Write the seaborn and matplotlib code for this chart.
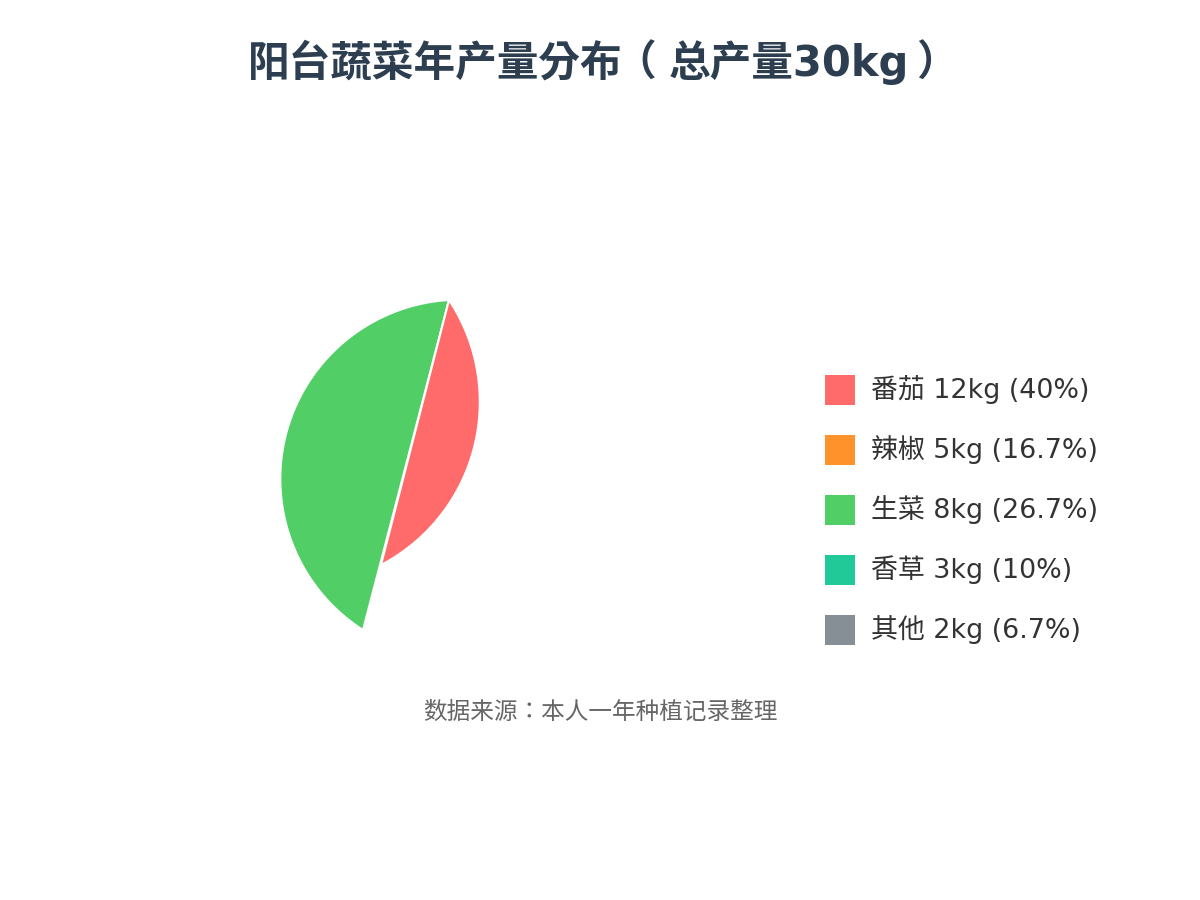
import numpy as np
import matplotlib.pyplot as plt
import seaborn as sns
from matplotlib.patches import Rectangle

# data
crops = ["番茄", "辣椒", "生菜", "香草", "其他"]
yields_kg = [12, 5, 8, 3, 2]
colors = ["#FF6B6B", "#FF922B", "#51CF66", "#20C997", "#868E96"]
title_main = "阳台蔬菜年产量分布"
title_total = "总产量30kg"
source = "数据来源：本人一年种植记录整理"

total = sum(yields_kg)
shares = [v / total for v in yields_kg]

# the captured frame of the pie animation: only two pieces are on screen,
# each drawn as an arc closed by its chord (pixel coords, y down);
# the arc bulges to the left of the chord direction
frame = {
    "生菜": dict(chord=((449, 300), (363, 630)), sweep_of="番茄"),
    "番茄": dict(chord=((381, 565), (449, 300)), sweep_of="生菜"),
}

sns.set_theme(style="white")
plt.rcParams["font.family"] = ["DejaVu Sans", "Noto Sans CJK TC"]

fig = plt.figure(figsize=(12, 9), dpi=100)
ax = fig.add_axes([0, 0, 1, 1])
ax.set_xlim(0, 1200)
ax.set_ylim(900, 0)
ax.axis("off")


def segment(p0, p1, sweep_deg, n=200):
    """arc of given sweep through p0 and p1, closed by the chord"""
    p0, p1 = np.array(p0, float), np.array(p1, float)
    half = np.radians(sweep_deg) / 2
    c = np.linalg.norm(p1 - p0)
    r = c / (2 * np.sin(half))
    d = (p1 - p0) / c
    normal = np.array([d[1], -d[0]])
    center = (p0 + p1) / 2 + normal * r * np.cos(half)
    a0 = np.arctan2(*(p0 - center)[::-1])
    a1 = np.arctan2(*(p1 - center)[::-1])
    diff = (a1 - a0 + np.pi) % (2 * np.pi) - np.pi
    t = np.linspace(a0, a0 + diff, n)
    return center[0] + r * np.cos(t), center[1] + r * np.sin(t)


for name in ["生菜", "番茄"]:
    f = frame[name]
    sweep = shares[crops.index(f["sweep_of"])] * 360
    xs, ys = segment(*f["chord"], sweep)
    ax.fill(xs, ys, color=colors[crops.index(name)], ec="white", lw=1.5, zorder=2)

# legend
for i, (name, v, s, c) in enumerate(zip(crops, yields_kg, shares, colors)):
    y = 390 + i * 60
    ax.add_patch(Rectangle((825, y - 15), 30, 30, color=c, lw=0))
    pct = f"{s * 100:.1f}".rstrip("0").rstrip(".")
    ax.text(871, y, f"{name} {v}kg ({pct}%)", fontsize=19.4, color="#333333",
            va="center", ha="left")

# title, set piece by piece so the full-width brackets sit centred
rend = fig.canvas.get_renderer()
kw = dict(fontsize=30, fontweight="bold", color="#2C3E50", va="baseline")
x = 248
t1 = ax.text(x, 76, title_main, ha="left", **kw)
x += t1.get_window_extent(rend).width
ax.text(x + 13, 76, "（", ha="center", **kw)
x += 46
t2 = ax.text(x, 76, title_total, ha="left", **kw)
x += t2.get_window_extent(rend).width
ax.text(x + 28, 76, "）", ha="center", **kw)

ax.text(600, 712, source, fontsize=17, color="#666666", ha="center", va="center")

fig.savefig("out.png", dpi=100, facecolor="white")
